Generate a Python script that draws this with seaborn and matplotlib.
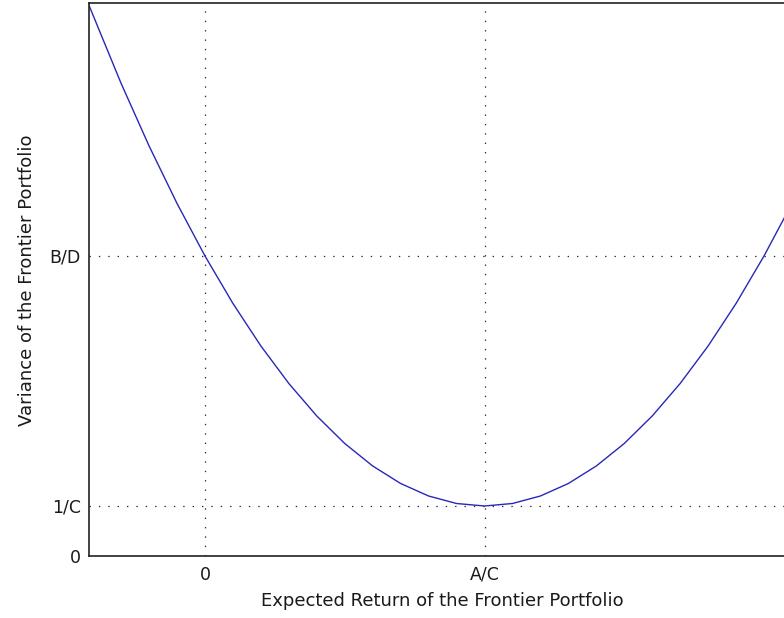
import matplotlib
matplotlib.use("Agg")
import matplotlib.pyplot as plt
import seaborn as sns
import pandas as pd

# Expected return (in units where 0 -> 0 and A/C -> 1)
expected_return = [-0.42, -0.3, -0.2, -0.1, 0.0, 0.1, 0.2, 0.3, 0.4, 0.5,
                   0.6, 0.7, 0.8, 0.9, 1.0, 1.1, 1.2, 1.3, 1.4, 1.5,
                   1.6, 1.7, 1.8, 1.9, 2.0, 2.1, 2.2]
# Variance (in units where 1/C -> 1, B/D -> 6)
variance = [11.08, 9.45, 8.20, 7.05, 6.00, 5.05, 4.20, 3.45, 2.80, 2.25,
            1.80, 1.45, 1.20, 1.05, 1.00, 1.05, 1.20, 1.45, 1.80, 2.25,
            2.80, 3.45, 4.20, 5.05, 6.00, 7.05, 8.20]

x_tick_values = [0.0, 1.0]
x_tick_labels = ["0", "A/C"]
y_tick_values = [0.0, 1.0, 6.0]
y_tick_labels = ["0", "1/C", "B/D"]

x_label = "Expected Return of the Frontier Portfolio"
y_label = "Variance of the Frontier Portfolio"

df = pd.DataFrame({"ret": expected_return, "var": variance})

sns.set_style("white")
plt.rcParams["font.family"] = ["DejaVu Sans"]

W, H = 784, 618
fig = plt.figure(figsize=(W / 100, H / 100), dpi=100)
fig.patch.set_facecolor("white")

ax_left, ax_right, ax_top, ax_bottom = 89, 789, 3, 556
ax = fig.add_axes([ax_left / W, (H - ax_bottom) / H,
                   (ax_right - ax_left) / W, (ax_bottom - ax_top) / H])

sns.lineplot(data=df, x="ret", y="var", ax=ax, color="#2828b8",
             linewidth=1.0, sort=False, estimator=None)

px_per_x = 279.5
ax.set_xlim((ax_left - 205) / px_per_x, (ax_right - 205) / px_per_x)
ax.set_ylim(0, (ax_bottom - ax_top) / 50.0)

ax.set_xticks(x_tick_values)
ax.set_xticklabels(x_tick_labels)
ax.set_yticks(y_tick_values)
ax.set_yticklabels(y_tick_labels)

ax.tick_params(axis="both", direction="in", length=4, width=0.8,
               colors="#222222", labelsize=12.5, labelcolor="#1a1a1a")
ax.tick_params(axis="x", pad=7)
ax.tick_params(axis="y", pad=6)

for gx in x_tick_values:
    ax.axvline(gx, color="#2a2a2a", linewidth=0.9, linestyle=(0, (1.1, 6.4)), zorder=0)
for gy in y_tick_values[1:]:
    ax.axhline(gy, color="#2a2a2a", linewidth=0.9, linestyle=(0, (1.1, 6.4)), zorder=0)

for s in ["left", "bottom", "top"]:
    ax.spines[s].set_color("#222222")
    ax.spines[s].set_linewidth(1.2)
ax.spines["right"].set_visible(False)

ax.set_xlabel(x_label, fontsize=13, color="#1a1a1a")
ax.set_ylabel(y_label, fontsize=13, color="#1a1a1a")
ax.xaxis.set_label_coords(0.505, -(592 - ax_bottom) / (ax_bottom - ax_top))
ax.yaxis.set_label_coords(-(ax_left - 36) / (ax_right - ax_left),
                          (ax_bottom - 280) / (ax_bottom - ax_top))

fig.savefig("out.png", dpi=100, facecolor="white")
